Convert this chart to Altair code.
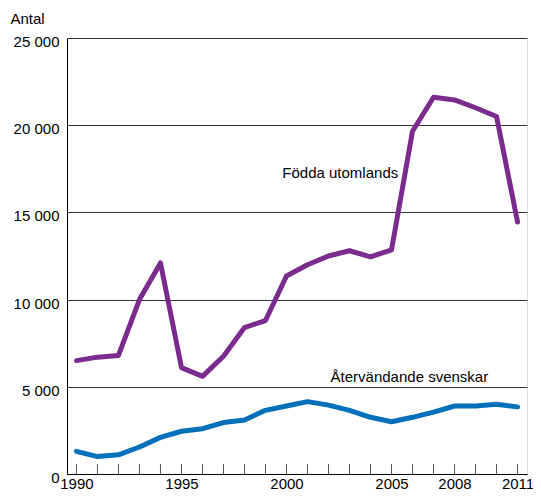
import altair as alt
import pandas as pd

years = list(range(1990, 2012))
fodda_utomlands = [6500, 6700, 6800, 10000, 12100, 6100, 5600, 6750, 8400, 8800,
                   11350, 12000, 12500, 12800, 12450, 12850, 19650, 21600, 21450,
                   21000, 20500, 14450]
atervandande = [1300, 1000, 1100, 1550, 2100, 2450, 2600, 2950, 3100, 3650,
                3900, 4150, 3950, 3650, 3250, 3000, 3250, 3550, 3900, 3900,
                4000, 3850]
series_names = ["Födda utomlands", "Återvändande svenskar"]
colors = ["#7B2A8E", "#0070BA"]
label_years = [1990, 1995, 2000, 2005, 2008, 2011]
y_ticks = [0, 5000, 10000, 15000, 20000, 25000]
annot_text = ["Födda utomlands", "Återvändande svenskar"]
annot_x = [2002.56, 2005.85]
annot_y = [17260, 5560]

FONT = "Liberation Sans"
W, H = 460, 436

df = pd.DataFrame({
    "year": years * 2,
    "value": fodda_utomlands + atervandande,
    "series": [series_names[0]] * len(years) + [series_names[1]] * len(years),
})
ticks_df = pd.DataFrame({"year": years})
annot_df = pd.DataFrame({"text": annot_text, "year": annot_x, "value": annot_y})

xscale = alt.Scale(domain=[1989.55, 2011.45], nice=False, zero=False)
yscale = alt.Scale(domain=[0, 25000], nice=False)

lines = alt.Chart(df).mark_line(strokeWidth=5, strokeCap="round", strokeJoin="round").encode(
    x=alt.X("year:Q", scale=xscale, axis=alt.Axis(
        values=label_years, title=None, ticks=False, grid=False,
        domainColor="black", labelFont=FONT, labelFontSize=15, labelColor="black",
        labelPadding=2, labelExpr="format(datum.value, 'd')", labelFlush=False,
    )),
    y=alt.Y("value:Q", scale=yscale, axis=alt.Axis(
        values=y_ticks, title="Antal", titleAngle=0, titleAlign="left",
        titleBaseline="middle", titleX=-57, titleY=-20, titleFont=FONT,
        titleFontSize=15, titleFontWeight="normal", titleColor="black",
        grid=True, gridColor="#333333", gridWidth=1, ticks=False,
        domainColor="black", labelFont=FONT, labelFontSize=15, labelColor="black",
        labelBaseline="middle", labelOffset=3.5, labelPadding=8,
        labelExpr="replace(format(datum.value, ','), ',', ' ')",
    )),
    color=alt.Color("series:N", scale=alt.Scale(domain=series_names, range=colors), legend=None),
)

tick_rules = alt.Chart(ticks_df).mark_rule(color="#555555", strokeWidth=1).encode(
    x=alt.X("year:Q", scale=xscale),
    y=alt.value(H - 10),
    y2=alt.value(H),
)

annots = alt.Chart(annot_df).mark_text(font=FONT, fontSize=15, color="black", align="center", baseline="middle").encode(
    x=alt.X("year:Q", scale=xscale),
    y=alt.Y("value:Q", scale=yscale),
    text="text:N",
)

chart = alt.layer(tick_rules, lines, annots).properties(
    width=W, height=H,
    autosize=alt.AutoSizeParams(type="none"),
    padding={"left": 59, "top": 30, "right": 6, "bottom": 16},
).configure_view(stroke="black", strokeWidth=1).configure(background="white")

chart.save("out.html", embed_options={"renderer": "svg", "actions": False})
